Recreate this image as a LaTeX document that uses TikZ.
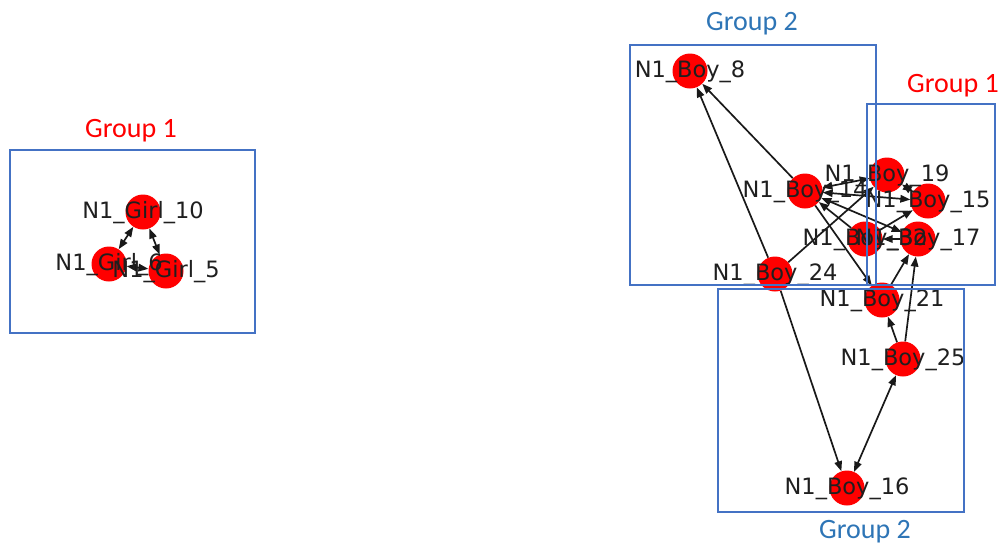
\documentclass[tikz,border=0pt]{standalone}
\usepackage{fontspec}
\newfontfamily\lblfont{DejaVu Sans}
\newfontfamily\grpfont{Carlito}
\usetikzlibrary{arrows.meta}
\definecolor{nodered}{RGB}{255,0,0}
\definecolor{boxblue}{RGB}{68,114,196}
\definecolor{grpblue}{RGB}{46,117,182}
\definecolor{grpred}{RGB}{255,0,0}
\pgfdeclarelayer{edges}
\pgfsetlayers{edges,main}
\begin{document}
\begin{tikzpicture}[x=1pt,y=-1pt,
  vert/.style={circle,fill=nodered,inner sep=0pt,minimum size=35pt},
  lbl/.style={anchor=base,inner sep=0pt,font=\lblfont\fontsize{22.5}{26}\selectfont,text=black!88},
  tip/.tip={Triangle[length=10pt,width=7.5pt]},
  edge/.style={line width=1.7pt,black!90,-tip},
  both/.style={line width=1.7pt,black!90,tip-tip},
  grpbox/.style={draw=boxblue,line width=1.1pt},
  grp/.style={anchor=base,inner sep=0pt,font=\grpfont\fontsize{28}{32}\selectfont}]
\useasboundingbox (0,0) rectangle (1003,544);

% vertices
\node[vert] (g10) at (143,212) {};
\node[vert] (g6)  at (109,264) {};
\node[vert] (g5)  at (166,271) {};

\node[vert] (b8)  at (690,71) {};
\node[vert] (b14) at (805,191) {};
\node[vert] (b19) at (887,175) {};
\node[vert] (b15) at (928,201) {};
\node[vert] (b32) at (865,239) {};
\node[vert] (b17) at (918,239) {};
\node[vert] (b24) at (775,274) {};
\node[vert] (b21) at (882,300) {};
\node[vert] (b25) at (903,359) {};
\node[vert] (b16) at (847,488) {};

% edges, kept underneath the vertices
\begin{pgfonlayer}{edges}
\draw[both] (g10) -- (g6);
\draw[both] (g10) -- (g5);
\draw[both] (g6) -- (g5);

\draw[edge] (b14) -- (b8);
\draw[edge] (b24) -- (b8);
\draw[edge] (b24) -- (b16);
\draw[both] (b25) -- (b16);
\draw[edge] (b25) -- (b21);
\draw[edge] (b25) -- (b17);
\draw[edge] (b21) -- (b17);
\draw[edge] (b14) -- (b21);
\draw[edge] (b24) -- (b19);
\draw[both] (b19) -- (b14);
\draw[both] (b15) -- (b14);
\draw[both] (b17) -- (b14);
\draw[edge] (b32) -- (b14);
\draw[edge] (b17) -- (b32);
\draw[edge] (b32) -- (b15);
\draw[both] (b15) -- (b19);
\end{pgfonlayer}

% vertex labels
\node[lbl] (lg10) at (143,218) {N1\_Girl\_10};
\node[lbl] (lg6)  at (109,270) {N1\_Girl\_6};
\node[lbl] (lg5)  at (166,277) {N1\_Girl\_5};

\node[lbl] (lb8)  at (690,77)  {N1\_Boy\_8};
\node[lbl] (lb14) at (805,197) {N1\_Boy\_14};
\node[lbl] (lb19) at (887,181) {N1\_Boy\_19};
\node[lbl] (lb15) at (928,207) {N1\_Boy\_15};
\node[lbl] (lb32) at (865,245) {N1\_Boy\_32};
\node[lbl] (lb17) at (918,245) {N1\_Boy\_17};
\node[lbl] (lb24) at (775,280) {N1\_Boy\_24};
\node[lbl] (lb21) at (882,306) {N1\_Boy\_21};
\node[lbl] (lb25) at (903,365) {N1\_Boy\_25};
\node[lbl] (lb16) at (847,494) {N1\_Boy\_16};

% group frames
\draw[grpbox] (10,150) rectangle (255,333);
\draw[grpbox] (630,45) rectangle (876,285);
\draw[grpbox] (867,104) rectangle (995,285);
\draw[grpbox] (718,289) rectangle (964,512);

% group captions
\node[grp,text=grpred]  (cap1) at (131,137) {Group 1};
\node[grp,text=grpblue] (cap2) at (752,30)  {Group 2};
\node[grp,text=grpred]  (cap3) at (953,92)  {Group 1};
\node[grp,text=grpblue] (cap4) at (865,538) {Group 2};
\end{tikzpicture}
\end{document}
